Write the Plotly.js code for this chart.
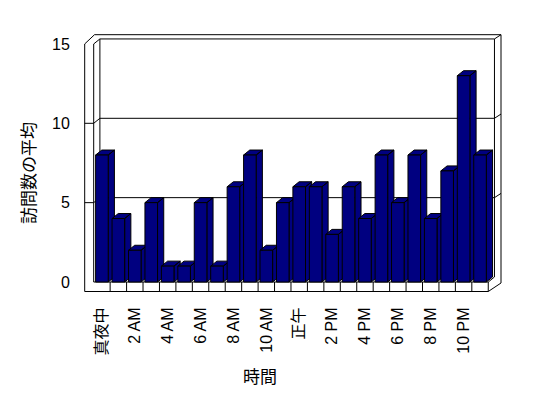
<!DOCTYPE html>
<html><head><meta charset="utf-8">
<script src="https://cdn.plot.ly/plotly-3.0.1.min.js"></script>
<style>html,body{margin:0;padding:0;background:#fff}</style>
</head><body><div id="chart" style="width:548px;height:398px"></div>
<script>
// ---- data ----
const hours = ['真夜中','1 AM','2 AM','3 AM','4 AM','5 AM','6 AM','7 AM','8 AM','9 AM','10 AM','11 AM',
               '正午','1 PM','2 PM','3 PM','4 PM','5 PM','6 PM','7 PM','8 PM','9 PM','10 PM','11 PM'];
const visits = [8,4,2,5,1,1,5,1,6,8,2,5,6,6,3,6,4,8,5,8,4,7,13,8];
const yTicks = [0,5,10,15];
const yTitle = '訪問数の平均';
const xTitle = '時間';

// ---- geometry (pixels) ----
const PITCH = 16.44, C0 = 101.92, Y0PX = 282, UNIT = 15.87;
const L = 80, R = 506, T = 30, B = 296;
const cx = px => (px - C0) / PITCH;
const vy = py => (Y0PX - py) / UNIT;
const pxp = px => (px - L) / (R - L);
const pyp = py => (B - py) / (B - T);
const xr = [cx(L), cx(R)], yr = [vy(B), vy(T)];
const DX = 6.2 / PITCH, DY = 5 / UNIT;
const W = 12.6 / PITCH;
const N = hours.length;
const xs = hours.map((_, i) => i);
const ymax = 15;
const oL = cx(84.7), oR = cx(501), oT = vy(34.7), fB = vy(291.5);
const xl = -0.5, xrr = N - 0.5;

const NAVY = '#000080';
const shapes = [];
const ln = (x0, y0, x1, y1) => shapes.push({type:'line', xref:'x', yref:'y', x0, y0, x1, y1,
  line:{color:'#000', width:1}, layer:'below'});

// outer frame
ln(oL, fB, oL, ymax);
ln(oL, ymax, cx(94.5), oT);
ln(cx(94.5), oT, oR, oT);
ln(oR, oT, oR, vy(283));
ln(oR, vy(283), xrr, fB);
ln(oL, fB, xrr, fB);
// left wall & back wall
ln(xl, 0, xl, ymax);
ln(xl, ymax, xl + DX, ymax + DY);
ln(xl + DX, ymax + DY, xrr + DX, ymax + DY);
ln(xl + DX, DY, xl + DX, ymax + DY);
ln(xrr + DX, DY, xrr + DX, ymax + DY);
ln(xrr + DX, ymax + DY, oR, oT);
// floor
ln(xl, 0, xrr, 0);
ln(xrr, 0, xrr, fB);
ln(xrr, 0, xrr + DX, DY);
for (let k = 0; k < N - 1; k++) ln(k + 0.5, 0, k + 0.5, fB);
// gridlines & front ticks
const stub = oT - (ymax + DY);
yTicks.filter(t => t > 0 && t < ymax).forEach(t => {
  ln(oL, t, xl, t);
  ln(xl, t, xl + DX, t + DY);
  ln(xl + DX, t + DY, xrr + DX, t + DY);
  ln(xrr + DX, t + DY, oR, t + DY + stub);
});

// 3D side/top faces (drawn under the bar fronts)
const traces = [];
visits.forEach((v, i) => {
  const a = i - W / 2, b = i + W / 2;
  traces.push({
    type:'scatter', mode:'lines', xaxis:'x', yaxis:'y', hoverinfo:'skip', showlegend:false,
    x:[a, a + DX, b + DX, b, a, null, b, b + DX, b + DX, b, b],
    y:[v, v + DY, v + DY, v, v, null, v, v + DY, DY, 0, v],
    fill:'toself', fillcolor:NAVY, line:{color:'#000', width:1}
  });
});
// bar fronts on overlay axes so they sit above the faces
traces.push({
  type:'bar', x:xs, y:visits, xaxis:'x2', yaxis:'y2', width:W,
  marker:{color:NAVY, line:{color:'#000', width:1}}, hoverinfo:'skip', showlegend:false
});

const FONT = 'Liberation Sans, Arial, Noto Sans CJK JP, sans-serif';
const tickIdx = xs.filter(i => i % 2 === 0);
const layout = {
  width:548, height:398,
  margin:{l:L, r:548 - R, t:T, b:398 - B, pad:0},
  paper_bgcolor:'#fff', plot_bgcolor:'#fff',
  showlegend:false,
  font:{family:FONT, color:'#000', size:16},
  xaxis:{range:xr, showgrid:false, zeroline:false, showline:false,
    tickmode:'array', tickvals:tickIdx, ticktext:tickIdx.map(i => hours[i]),
    tickangle:-90, ticks:'outside', ticklen:4, tickcolor:'rgba(0,0,0,0)',
    tickfont:{family:FONT, size:16, color:'#000'}},
  yaxis:{range:yr, showgrid:false, zeroline:false, showline:false,
    tickmode:'array', tickvals:yTicks, ticktext:yTicks.map(String),
    ticks:'outside', ticklen:6, tickcolor:'rgba(0,0,0,0)',
    tickfont:{family:FONT, size:16, color:'#000'}},
  xaxis2:{range:xr, overlaying:'x', visible:false},
  yaxis2:{range:yr, overlaying:'y', visible:false},
  shapes,
  annotations:[
    {text:yTitle, xref:'paper', yref:'paper', x:pxp(27), y:pyp(173), textangle:-90, showarrow:false,
     xanchor:'center', yanchor:'middle',
     font:{family:'Noto Sans CJK JP, sans-serif', size:17, color:'#000'}},
    {text:xTitle, xref:'paper', yref:'paper', x:pxp(260), y:pyp(375), showarrow:false,
     xanchor:'center', yanchor:'middle',
     font:{family:'Noto Sans CJK JP, sans-serif', size:17, color:'#000'}}
  ]
};
Plotly.newPlot('chart', traces, layout, {staticPlot:true, displayModeBar:false});
</script></body></html>
